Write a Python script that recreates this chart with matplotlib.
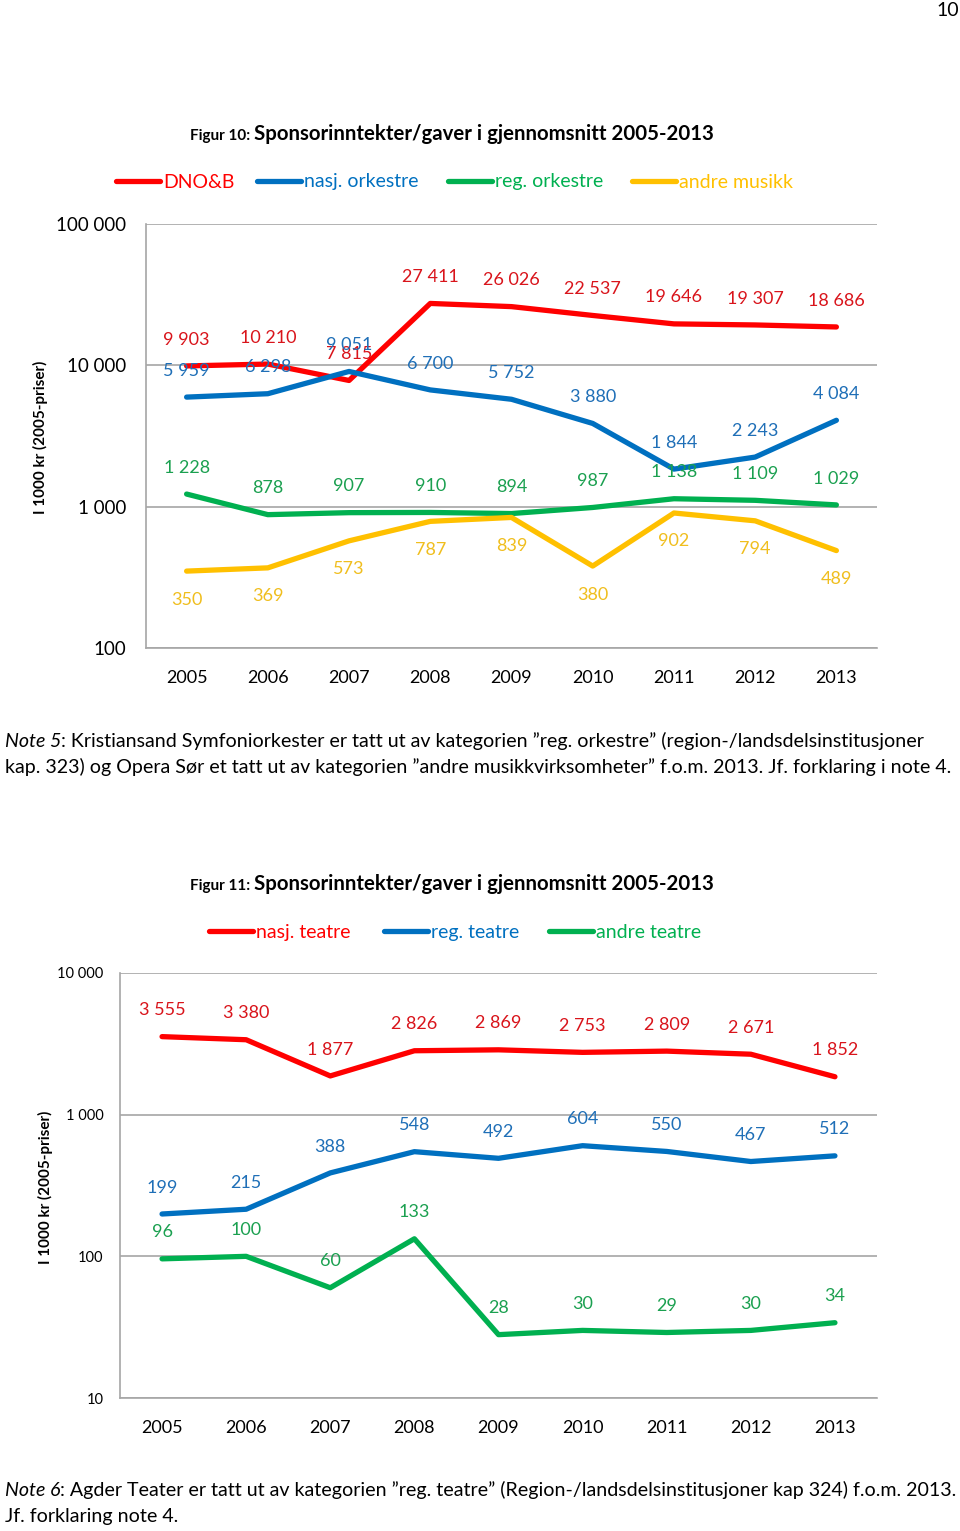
import matplotlib
matplotlib.use("Agg")
import matplotlib.pyplot as plt
from matplotlib.lines import Line2D
from matplotlib.ticker import FixedLocator, FuncFormatter, NullLocator

plt.rcParams['font.family'] = ['Lato', 'DejaVu Sans']

# ---------------- data ----------------
years = ["2005", "2006", "2007", "2008", "2009", "2010", "2011", "2012", "2013"]

music_names = ["DNO&B", "nasj. orkestre", "reg. orkestre", "andre musikk"]
dnob = [9903, 10210, 7815, 27411, 26026, 22537, 19646, 19307, 18686]
nasj_orkestre = [5959, 6298, 9051, 6700, 5752, 3880, 1844, 2243, 4084]
reg_orkestre = [1228, 878, 907, 910, 894, 987, 1138, 1109, 1029]
andre_musikk = [350, 369, 573, 787, 839, 380, 902, 794, 489]

theatre_names = ["nasj. teatre", "reg. teatre", "andre teatre"]
nasj_teatre = [3555, 3380, 1877, 2826, 2869, 2753, 2809, 2671, 1852]
reg_teatre = [199, 215, 388, 548, 492, 604, 550, 467, 512]
andre_teatre = [96, 100, 60, 133, 28, 30, 29, 30, 34]

fig10_ticks = [100, 1000, 10000, 100000]
fig11_ticks = [10, 100, 1000, 10000]

# ---------------- style ----------------
RED, BLUE, GREEN, YELLOW = "#FF0000", "#0070C0", "#00B050", "#FFC000"
RED_T, BLUE_T, GREEN_T, YELLOW_T = "#D9141B", "#1F6FB7", "#1BA050", "#F0BE1E"
GRID = "#A6A6A6"
W, H = 960, 1531
LW = 3.8
NOTE_FS = 14.1

fig = plt.figure(figsize=(W / 100, H / 100), dpi=100)


def fx(x):
    return x / W


def fy(y):
    return 1 - y / H


def fmt(v):
    return f"{int(v):,}".replace(",", " ")


def panel(rect, series, colors, tcolors, places, ticks, ytick_fs, ypad):
    ax = fig.add_axes(rect)
    x = list(range(len(years)))
    for vals, c, tc, pl in zip(series, colors, tcolors, places):
        ax.plot(x, vals, color=c, lw=LW, solid_capstyle="round", solid_joinstyle="round", zorder=3)
        for xi, v in zip(x, vals):
            off = 19 if pl == "above" else -20.5
            ax.annotate(fmt(v), (xi, v), xytext=(0, off), textcoords="offset points",
                        ha="center", va="center", color=tc, fontsize=13, zorder=4)
    ax.set_yscale("log")
    ax.set_ylim(ticks[0], ticks[-1])
    ax.set_xlim(-0.5, len(years) - 0.5)
    ax.yaxis.set_major_locator(FixedLocator(ticks))
    ax.yaxis.set_minor_locator(NullLocator())
    ax.yaxis.set_major_formatter(FuncFormatter(lambda v, p: fmt(v)))
    ax.set_xticks(x)
    ax.set_xticklabels(years, fontsize=13)
    ax.tick_params(axis="y", length=0, pad=ypad, labelsize=ytick_fs)
    ax.tick_params(axis="x", length=0, pad=15.5)
    ax.grid(axis="y", color=GRID, lw=1.2, zorder=0)
    for s in ["top", "right"]:
        ax.spines[s].set_visible(False)
    for s in ["left", "bottom"]:
        ax.spines[s].set_color(GRID)
        ax.spines[s].set_linewidth(1.2)
    return ax


def legend(names, colors, starts, y):
    for n, c, x0 in zip(names, colors, starts):
        fig.add_artist(Line2D([fx(x0), fx(x0 + 44)], [fy(y), fy(y)], transform=fig.transFigure,
                              color=c, lw=LW, solid_capstyle="round"))
        fig.text(fx(x0 + 47), fy(y + 1), n, color=c, fontsize=14, ha="left", va="center")


def title(num, y):
    t1 = fig.text(fx(190), fy(y), f"Figur {num}: ", fontsize=11, fontweight="bold", va="baseline")
    fig.canvas.draw()
    bb = t1.get_window_extent(fig.canvas.get_renderer())
    fig.text(bb.x1 / W, fy(y), "Sponsorinntekter/gaver i gjennomsnitt 2005-2013",
             fontsize=14.7, fontweight="bold", va="baseline")


def note(lines, y0, num):
    t1 = fig.text(fx(5), fy(y0), f"Note {num}", fontsize=NOTE_FS, style="italic", va="baseline")
    fig.canvas.draw()
    bb = t1.get_window_extent(fig.canvas.get_renderer())
    fig.text(bb.x1 / W, fy(y0), lines[0], fontsize=NOTE_FS, va="baseline")
    for i, ln in enumerate(lines[1:], 1):
        fig.text(fx(5), fy(y0 + 26 * i), ln, fontsize=NOTE_FS, va="baseline")


# page number
fig.text(fx(959), fy(10), "10", fontsize=14, ha="right", va="center")

# ---------- Figure 10 ----------
title(10, 140)
legend(music_names, [RED, BLUE, GREEN, YELLOW], [116, 257, 448, 632], 181)
ax1 = panel([fx(146), fy(648), fx(877) - fx(146), fy(224) - fy(648)],
            [dnob, nasj_orkestre, reg_orkestre, andre_musikk],
            [RED, BLUE, GREEN, YELLOW], [RED_T, BLUE_T, GREEN_T, YELLOW_T],
            ["above", "above", "above", "below"], fig10_ticks, 13.5, 14)
fig.text(fx(40), fy(437), "I 1000 kr (2005-priser)", rotation=90, fontsize=11,
         fontweight="bold", ha="center", va="center")
note([": Kristiansand Symfoniorkester er tatt ut av kategorien \u201dreg. orkestre\u201d (region-/landsdelsinstitusjoner",
      "kap. 323) og Opera S\u00f8r et tatt ut av kategorien \u201dandre musikkvirksomheter\u201d f.o.m. 2013. Jf. forklaring i note 4."],
     747, 5)

# ---------- Figure 11 ----------
title(11, 890)
legend(theatre_names, [RED, BLUE, GREEN], [209, 384, 549], 931)
ax2 = panel([fx(120), fy(1398), fx(877) - fx(120), fy(973) - fy(1398)],
            [nasj_teatre, reg_teatre, andre_teatre],
            [RED, BLUE, GREEN], [RED_T, BLUE_T, GREEN_T],
            ["above", "above", "above"], fig11_ticks, 10.5, 12)
fig.text(fx(45), fy(1187), "I 1000 kr (2005-priser)", rotation=90, fontsize=11,
         fontweight="bold", ha="center", va="center")
note([": Agder Teater er tatt ut av kategorien \u201dreg. teatre\u201d (Region-/landsdelsinstitusjoner kap 324) f.o.m. 2013.",
      "Jf. forklaring note 4."], 1496, 6)

fig.savefig("out.png", dpi=100)
